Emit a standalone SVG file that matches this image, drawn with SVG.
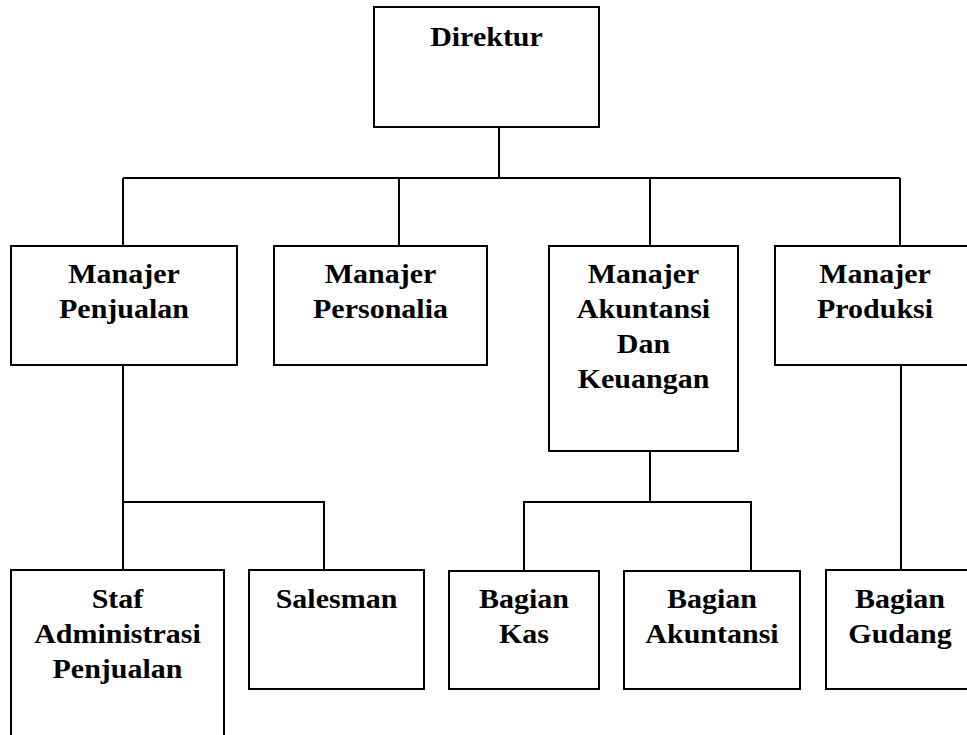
<svg xmlns="http://www.w3.org/2000/svg" width="967" height="735" viewBox="0 0 967 735">
<style>
.box{fill:#fff;stroke:#000;stroke-width:2}
.ln{fill:none;stroke:#000;stroke-width:2}
.t{font-family:"Liberation Serif","Times New Roman",serif;font-weight:bold;font-size:30px;fill:#000;text-anchor:middle}
</style>
<rect width="967" height="735" fill="#fff"/>
<g id="connectors" class="ln">
<path d="M499 127V178M123 178H900M123 178V246M399 178V246M650 178V246M900 178V246"/>
<path d="M123 365V570M123 502H324V570"/>
<path d="M650 451V502M524 571V502H751V571"/>
<path d="M901 365V570"/>
</g>
<g id="direktur"><rect class="box" x="374" y="7" width="225" height="120"/>
<text class="t" transform="translate(486.5,46) scale(1,0.88)">Direktur</text></g>
<g id="manajer-penjualan"><rect class="box" x="11" y="246" width="226" height="119"/>
<text class="t" transform="translate(124,283) scale(1,0.88)"><tspan x="0" y="0">Manajer</tspan><tspan x="0" y="39.8">Penjualan</tspan></text></g>
<g id="manajer-personalia"><rect class="box" x="274" y="246" width="213" height="119"/>
<text class="t" transform="translate(380.5,283) scale(1,0.88)"><tspan x="0" y="0">Manajer</tspan><tspan x="0" y="39.8">Personalia</tspan></text></g>
<g id="manajer-akuntansi"><rect class="box" x="549" y="246" width="189" height="205"/>
<text class="t" transform="translate(643.5,283) scale(1,0.88)"><tspan x="0" y="0">Manajer</tspan><tspan x="0" y="39.8">Akuntansi</tspan><tspan x="0" y="79.6">Dan</tspan><tspan x="0" y="119.4">Keuangan</tspan></text></g>
<g id="manajer-produksi"><rect class="box" x="775" y="246" width="230" height="119"/>
<text class="t" transform="translate(875,283) scale(1,0.88)"><tspan x="0" y="0">Manajer</tspan><tspan x="0" y="39.8">Produksi</tspan></text></g>
<g id="staf-administrasi"><rect class="box" x="11" y="570" width="213" height="200"/>
<text class="t" transform="translate(117.5,608) scale(1,0.88)"><tspan x="0" y="0">Staf</tspan><tspan x="0" y="39.8">Administrasi</tspan><tspan x="0" y="79.6">Penjualan</tspan></text></g>
<g id="salesman"><rect class="box" x="249" y="570" width="175" height="119"/>
<text class="t" transform="translate(336.5,608) scale(1,0.88)">Salesman</text></g>
<g id="bagian-kas"><rect class="box" x="449" y="571" width="150" height="118"/>
<text class="t" transform="translate(524,608) scale(1,0.88)"><tspan x="0" y="0">Bagian</tspan><tspan x="0" y="39.8">Kas</tspan></text></g>
<g id="bagian-akuntansi"><rect class="box" x="624" y="571" width="176" height="118"/>
<text class="t" transform="translate(712,608) scale(1,0.88)"><tspan x="0" y="0">Bagian</tspan><tspan x="0" y="39.8">Akuntansi</tspan></text></g>
<g id="bagian-gudang"><rect class="box" x="826" y="570" width="180" height="119"/>
<text class="t" transform="translate(900,608) scale(1,0.88)"><tspan x="0" y="0">Bagian</tspan><tspan x="0" y="39.8">Gudang</tspan></text></g>
</svg>
